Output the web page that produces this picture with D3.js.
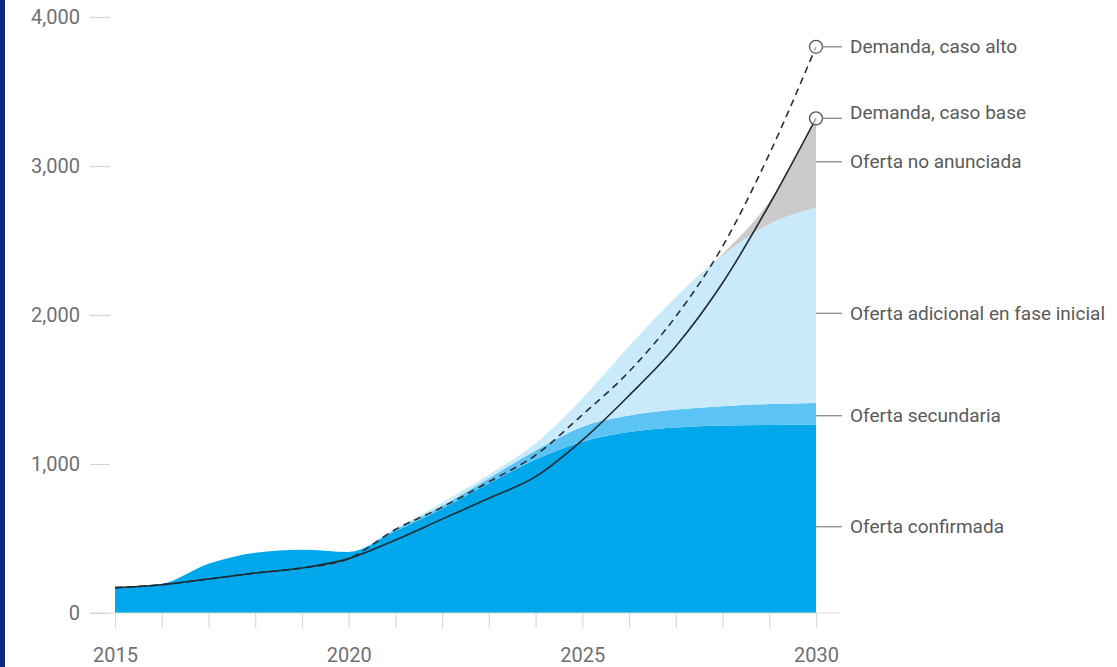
<!DOCTYPE html>
<html>
<head>
<meta charset="utf-8">
<script src="https://cdn.jsdelivr.net/npm/d3@7"></script>
<style>
  html, body { margin: 0; padding: 0; background: #fff; }
  svg { display: block; font-family: Roboto, "Noto Sans", sans-serif; }
</style>
</head>
<body>
<svg id="chart" width="1117" height="667"></svg>
<script>
// Years on the x axis
const years = [2015, 2016, 2017, 2018, 2019, 2020, 2021, 2022, 2023, 2024, 2025, 2026, 2027, 2028, 2029, 2030];

// Supply layers (stacked), same length as years
const ofertaConfirmada = [170, 195, 330, 405, 425, 410, 550, 700, 870, 1030, 1150, 1215, 1245, 1258, 1262, 1265];
const ofertaSecundaria = [0, 0, 0, 0, 0, 0, 10, 20, 35, 60, 100, 110, 120, 130, 140, 145];
const ofertaAdicional  = [0, 0, 0, 0, 0, 0, 10, 20, 25, 50, 190, 465, 755, 1012, 1208, 1310];
const ofertaNoAnunciada = [0, 0, 0, 0, 0, 0, 0, 0, 0, 0, 0, 0, 0, 10, 150, 590];

// Demand scenarios
const demandaBase = [170, 190, 228, 268, 302, 365, 490, 630, 770, 915, 1160, 1460, 1790, 2215, 2740, 3320];
const demandaAlta = [170, 190, 228, 268, 302, 365, 560, 710, 880, 1060, 1330, 1620, 1990, 2460, 3080, 3800];

// Axis ticks and labels
const yTicks = [0, 1000, 2000, 3000, 4000];
const xLabelYears = [2015, 2020, 2025, 2030];

const supplyKeys = ["confirmada", "secundaria", "adicional", "noAnunciada"];
const supplyLabels = {
  confirmada: "Oferta confirmada",
  secundaria: "Oferta secundaria",
  adicional: "Oferta adicional en fase inicial",
  noAnunciada: "Oferta no anunciada"
};
const supplyColors = {
  confirmada: "#00a7ea",
  secundaria: "#5cc4f4",
  adicional: "#c9eafa",
  noAnunciada: "#cbcbcb"
};

const rows = years.map((yr, i) => ({
  year: yr,
  confirmada: ofertaConfirmada[i],
  secundaria: ofertaSecundaria[i],
  adicional: ofertaAdicional[i],
  noAnunciada: ofertaNoAnunciada[i]
}));

const svg = d3.select("#chart");

// Dark frame strip on the left edge
svg.append("rect").attr("x", 0).attr("y", 0).attr("width", 5).attr("height", 667).attr("fill", "#0b2a7a");

const x = d3.scaleLinear().domain([2015, 2030]).range([115, 816]);
const y = d3.scaleLinear().domain([0, 4000]).range([613, 17]);

// Stacked supply areas
const stacked = d3.stack().keys(supplyKeys)(rows);
const area = d3.area()
  .x(d => x(d.data.year))
  .y0(d => y(d[0]))
  .y1(d => y(d[1]))
  .curve(d3.curveMonotoneX);

svg.append("g").selectAll("path")
  .data(stacked)
  .join("path")
  .attr("d", area)
  .attr("fill", d => supplyColors[d.key]);

// Baseline
svg.append("line")
  .attr("x1", 90).attr("x2", 840)
  .attr("y1", y(0)).attr("y2", y(0))
  .attr("stroke", "#dcdcdc").attr("stroke-width", 1.2);

// Y axis
const yAxis = svg.append("g")
  .attr("transform", `translate(110,0)`)
  .call(d3.axisLeft(y).tickValues(yTicks).tickSize(20).tickPadding(10).tickFormat(d3.format(",")));
yAxis.select(".domain").remove();
yAxis.selectAll(".tick line").attr("stroke", "#d6d6d6").attr("stroke-width", 1.2);
yAxis.selectAll(".tick text")
  .attr("fill", "#707070").attr("font-size", 20).attr("font-family", "Roboto, sans-serif");

// X axis
const xAxis = svg.append("g")
  .attr("transform", `translate(0,${y(0)})`)
  .call(d3.axisBottom(x).tickValues(years).tickSize(15).tickPadding(20)
    .tickFormat(d => xLabelYears.includes(d) ? String(d) : ""));
xAxis.select(".domain").remove();
xAxis.selectAll(".tick line").attr("stroke", "#dadada").attr("stroke-width", 1.2);
xAxis.selectAll(".tick text")
  .attr("fill", "#707070").attr("font-size", 20).attr("font-family", "Roboto, sans-serif");

// Demand lines
const line = (vals) => d3.line()
  .x((d, i) => x(years[i]))
  .y(d => y(d))
  .curve(d3.curveMonotoneX)(vals);

svg.append("path")
  .attr("d", line(demandaAlta))
  .attr("fill", "none")
  .attr("stroke", "#2b2f36")
  .attr("stroke-width", 1.6)
  .attr("stroke-dasharray", "7,5");

svg.append("path")
  .attr("d", line(demandaBase))
  .attr("fill", "none")
  .attr("stroke", "#1f2a33")
  .attr("stroke-width", 1.6);

// End markers for demand
const last = years.length - 1;
const xEnd = x(years[last]);
const demandEnds = [
  { label: "Demanda, caso alto", value: demandaAlta[last], textNudge: 0 },
  { label: "Demanda, caso base", value: demandaBase[last], textNudge: -6 }
];

const labelG = svg.append("g").attr("font-family", "Roboto, sans-serif").attr("font-size", 19).attr("fill", "#5a5a5a");

demandEnds.forEach(d => {
  const cy = y(d.value);
  svg.append("circle")
    .attr("cx", xEnd).attr("cy", cy).attr("r", 6.5)
    .attr("fill", "#fff").attr("fill-opacity", 0.6)
    .attr("stroke", "#555").attr("stroke-width", 1.3);
  svg.append("line")
    .attr("x1", xEnd + 6.5).attr("x2", 842)
    .attr("y1", cy).attr("y2", cy)
    .attr("stroke", "#8a8a8a").attr("stroke-width", 1.3);
  labelG.append("text")
    .attr("x", 850).attr("y", cy + d.textNudge).attr("dy", "0.35em")
    .text(d.label);
});

// Supply layer labels, placed at the middle of each layer at the last year
const layerNudge = { confirmada: 8, secundaria: 2, adicional: 8, noAnunciada: -2 };
stacked.forEach(s => {
  const p = s[last];
  const cy = y((p[0] + p[1]) / 2) + layerNudge[s.key];
  svg.append("line")
    .attr("x1", xEnd).attr("x2", 842)
    .attr("y1", cy).attr("y2", cy)
    .attr("stroke", "#8a8a8a").attr("stroke-width", 1.3);
  labelG.append("text")
    .attr("x", 850).attr("y", cy).attr("dy", "0.35em")
    .text(supplyLabels[s.key]);
});
</script>
</body>
</html>
